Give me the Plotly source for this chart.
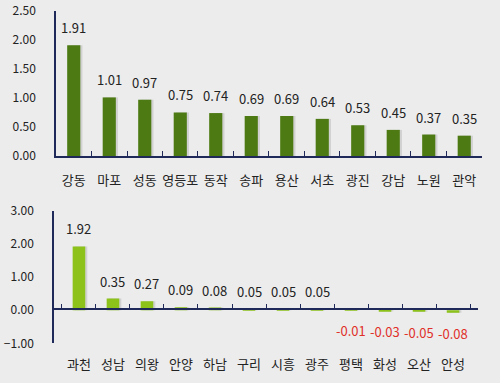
import plotly.graph_objects as go

top_cats = ["강동", "마포", "성동", "영등포", "동작", "송파", "용산", "서초", "광진", "강남", "노원", "관악"]
top_vals = [1.91, 1.01, 0.97, 0.75, 0.74, 0.69, 0.69, 0.64, 0.53, 0.45, 0.37, 0.35]
bot_cats = ["과천", "성남", "의왕", "안양", "하남", "구리", "시흥", "광주", "평택", "화성", "오산", "안성"]
bot_vals = [1.92, 0.35, 0.27, 0.09, 0.08, 0.05, 0.05, 0.05, -0.01, -0.03, -0.05, -0.08]
top_yticks = [0, 0.5, 1.0, 1.5, 2.0, 2.5]
bot_yticks = [-1, 0, 1, 2, 3]

FONT = "Noto Sans CJK KR"
AX = "#1f2a5a"
TXT = "#222222"
BW = 0.37
SHADOW = "rgba(70,70,70,0.16)"

fig = go.Figure()
# soft drop shadows
fig.add_trace(go.Bar(x=top_cats, y=top_vals, marker_color=SHADOW, width=BW, offset=-BW/2 + 0.06,
                     xaxis="x", yaxis="y", hoverinfo="skip", marker_line_width=0))
fig.add_trace(go.Bar(x=bot_cats, y=bot_vals, marker_color=SHADOW, width=BW, offset=-BW/2 + 0.06,
                     xaxis="x2", yaxis="y2", hoverinfo="skip", marker_line_width=0))
fig.add_trace(go.Bar(x=top_cats, y=top_vals, marker_color="#4d7a12", width=BW, offset=-BW/2,
                     xaxis="x", yaxis="y", hoverinfo="skip", marker_line_width=0))
fig.add_trace(go.Bar(x=bot_cats, y=bot_vals, marker_color="#8cc21a", width=BW, offset=-BW/2,
                     xaxis="x2", yaxis="y2", hoverinfo="skip", marker_line_width=0))
# invisible trace for the zero-line axis of the lower chart
fig.add_trace(go.Scatter(x=bot_cats, y=[0]*len(bot_cats), mode="markers",
                         marker=dict(opacity=0), xaxis="x3", yaxis="y2", hoverinfo="skip"))

ann = []
for c, v in zip(top_cats, top_vals):
    ann.append(dict(x=c, y=v, xref="x", yref="y", text=f"{v:.2f}", showarrow=False,
                    yanchor="bottom", yshift=6, font=dict(family=FONT, size=13, color=TXT)))
for c, v in zip(bot_cats, bot_vals):
    if v >= 0:
        ann.append(dict(x=c, y=v, xref="x2", yref="y2", text=f"{v:.2f}", showarrow=False,
                        yanchor="bottom", yshift=6, font=dict(family=FONT, size=13, color=TXT)))
    else:
        ann.append(dict(x=c, y=v, xref="x2", yref="y2", text=f"{v:.2f}", showarrow=False,
                        yanchor="top", yshift=-9, font=dict(family=FONT, size=13, color="#e0302a")))

yax = dict(showgrid=False, zeroline=False, showline=True, linecolor=AX, linewidth=1.5,
           ticks="", tickfont=dict(family=FONT, size=12, color=TXT), ticklabelstandoff=16,
           automargin=False)
xax = dict(showgrid=False, zeroline=False, tickson="boundaries", tickangle=0,
           ticklen=5, tickcolor=AX, tickfont=dict(family=FONT, size=13, color=TXT),
           ticklabelstandoff=12, automargin=False)

fig.update_layout(
    width=500, height=383,
    margin=dict(l=54, r=0, t=0, b=0),
    paper_bgcolor="#ececec", plot_bgcolor="rgba(0,0,0,0)",
    showlegend=False, annotations=ann, barmode="overlay",
    xaxis=dict(**xax, ticks="inside", domain=[0.0045, 0.9596], anchor="y",
               showline=True, linecolor=AX, linewidth=1.5),
    yaxis=dict(**yax, domain=[0.5927, 0.9713], range=[0, 2.5], tickvals=top_yticks,
               tickformat=".2f", anchor="x"),
    xaxis2=dict(**xax, ticks="", domain=[0, 0.9507], anchor="y2", showline=False),
    yaxis2=dict(**yax, domain=[0.1036, 0.4499], range=[-1, 3], tickvals=bot_yticks,
                tickformat=".2f", anchor="x2"),
    xaxis3=dict(overlaying="x2", matches="x2", anchor="free", position=0.1924,
                showline=True, linecolor=AX, linewidth=1.5, showgrid=False, zeroline=False,
                tickson="boundaries", ticks="inside", ticklen=5, tickcolor=AX,
                showticklabels=False, domain=[0, 0.9507], automargin=False),
)

fig.write_html("out.html", config={"displayModeBar": False},
               post_script="document.body.style.margin='0';document.body.style.background='#ececec';")
